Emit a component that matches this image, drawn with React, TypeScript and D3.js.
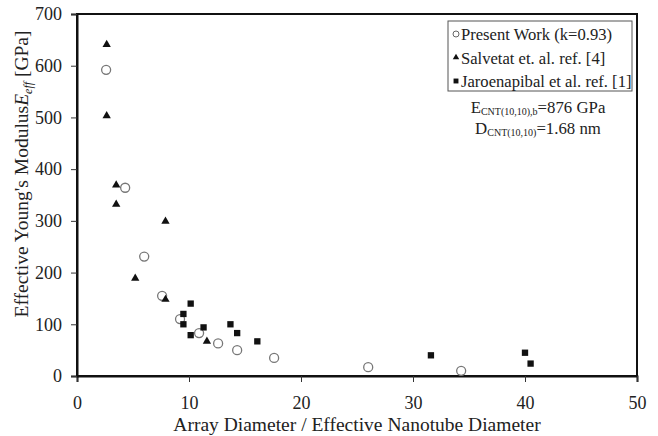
import { useEffect, useRef } from "react";
import * as d3 from "d3";

// Present Work (k=0.93)
const presentX = [2.6, 4.3, 6.0, 7.6, 9.2, 10.9, 12.6, 14.3, 17.6, 26.0, 34.3];
const presentY = [592, 364, 231, 155, 110, 83, 63, 50, 35, 17, 10];

// Salvetat et. al. ref. [4]
const salvetatX = [2.65, 2.65, 3.5, 3.5, 5.2, 7.9, 7.9, 11.6];
const salvetatY = [641, 503, 369, 332, 189, 299, 148, 67];

// Jaroenapibal et al. ref. [1]
const jaroX = [9.5, 9.5, 10.15, 10.15, 11.3, 13.7, 14.3, 16.1, 31.6, 40.0, 40.5];
const jaroY = [120, 100, 140, 79, 94, 100, 83, 67, 40, 45, 24];

const xTicks = [0, 10, 20, 30, 40, 50];
const yTicks = [0, 100, 200, 300, 400, 500, 600, 700];

const legendLabels = ["Present Work (k=0.93)", "Salvetat et. al. ref. [4]", "Jaroenapibal et al. ref. [1]"];

export default function App() {
    const ref = useRef<SVGSVGElement>(null);

    useEffect(() => {
        const width = 658;
        const height = 436;
        const margin = { left: 77, right: 21, top: 14, bottom: 60 };
        const font = "'Liberation Serif', 'Times New Roman', serif";

        const svg = d3.select(ref.current)
            .attr("width", width)
            .attr("height", height);

        svg.selectAll("*").remove();

        svg.append("rect").attr("width", width).attr("height", height).attr("fill", "#fff");

        const x = d3.scaleLinear().domain([0, 50]).range([margin.left, width - margin.right]);
        const y = d3.scaleLinear().domain([0, 700]).range([height - margin.bottom, margin.top]);

        // frame
        svg.append("rect")
            .attr("x", x(0)).attr("y", y(700))
            .attr("width", x(50) - x(0)).attr("height", y(0) - y(700))
            .attr("fill", "none").attr("stroke", "#111").attr("stroke-width", 2);

        const xAxis = svg.append("g")
            .attr("transform", `translate(0,${y(0)})`)
            .call(d3.axisBottom(x).tickValues(xTicks).tickSize(6).tickPadding(14));
        const yAxis = svg.append("g")
            .attr("transform", `translate(${x(0)},0)`)
            .call(d3.axisLeft(y).tickValues(yTicks).tickSize(6).tickPadding(9));

        [xAxis, yAxis].forEach(g => {
            g.attr("font-family", font).attr("font-size", 18);
            g.select(".domain").attr("stroke", "#111").attr("stroke-width", 2);
            g.selectAll(".tick line").attr("stroke", "#333").attr("stroke-width", 1);
            g.selectAll(".tick text").attr("fill", "#222");
        });

        // axis titles
        svg.append("text")
            .attr("x", (x(0) + x(50)) / 2).attr("y", 431)
            .attr("text-anchor", "middle")
            .attr("font-family", font).attr("font-size", 19.5).attr("fill", "#222")
            .text("Array Diameter / Effective Nanotube Diameter");

        const yt = svg.append("text")
            .attr("transform", `translate(28,174) rotate(-90)`)
            .attr("text-anchor", "middle")
            .attr("font-family", font).attr("font-size", 19.5).attr("fill", "#222");
        yt.append("tspan").text("Effective Young's Modulus");
        yt.append("tspan").attr("font-style", "italic").text("E");
        yt.append("tspan").attr("font-style", "italic").attr("font-size", 12).attr("dy", 4).text("eff");
        yt.append("tspan").attr("dy", -4).text(" [GPa]");

        const tri = d3.symbol().type(d3.symbolTriangle).size(30);
        const sq = d3.symbol().type(d3.symbolSquare).size(40);

        // series
        svg.append("g").selectAll("circle")
            .data(d3.zip(presentX, presentY))
            .join("circle")
            .attr("cx", d => x(d[0])).attr("cy", d => y(d[1]))
            .attr("r", 4.5).attr("fill", "#fff").attr("stroke", "#777").attr("stroke-width", 1.3);

        svg.append("g").selectAll("path")
            .data(d3.zip(salvetatX, salvetatY))
            .join("path")
            .attr("transform", d => `translate(${x(d[0])},${y(d[1])})`)
            .attr("d", tri).attr("fill", "#111");

        svg.append("g").selectAll("path")
            .data(d3.zip(jaroX, jaroY))
            .join("path")
            .attr("transform", d => `translate(${x(d[0])},${y(d[1])})`)
            .attr("d", sq).attr("fill", "#111");

        // legend
        const lg = svg.append("g");
        lg.append("rect")
            .attr("x", 448).attr("y", 21).attr("width", 184).attr("height", 70)
            .attr("fill", "#fff").attr("stroke", "#555").attr("stroke-width", 1);

        legendLabels.forEach((label, i) => {
            const cy = 34 + i * 23.5;
            if (i === 0) {
                lg.append("circle").attr("cx", 456).attr("cy", cy).attr("r", 3)
                    .attr("fill", "#fff").attr("stroke", "#666").attr("stroke-width", 1);
            } else {
                lg.append("path")
                    .attr("transform", `translate(456,${cy})`)
                    .attr("d", d3.symbol().type(i === 1 ? d3.symbolTriangle : d3.symbolSquare).size(i === 1 ? 18 : 24)())
                    .attr("fill", "#111");
            }
            lg.append("text")
                .attr("x", 461).attr("y", cy + 6)
                .attr("font-family", font).attr("font-size", 16.6).attr("fill", "#222")
                .text(label);
        });

        // annotations
        const a1 = svg.append("text")
            .attr("x", 538).attr("y", 113).attr("text-anchor", "middle")
            .attr("font-family", font).attr("font-size", 16.8).attr("fill", "#222");
        a1.append("tspan").text("E");
        a1.append("tspan").attr("font-size", 10).attr("dy", 2).text("CNT(10,10),b");
        a1.append("tspan").attr("dy", -2).text("=876 GPa");

        const a2 = svg.append("text")
            .attr("x", 538).attr("y", 134).attr("text-anchor", "middle")
            .attr("font-family", font).attr("font-size", 16.8).attr("fill", "#222");
        a2.append("tspan").text("D");
        a2.append("tspan").attr("font-size", 10).attr("dy", 2).text("CNT(10,10)");
        a2.append("tspan").attr("dy", -2).text("=1.68 nm");
    }, []);

    return <svg ref={ref} style={{ position: "absolute", left: 0, top: 0 }}></svg>;
}
